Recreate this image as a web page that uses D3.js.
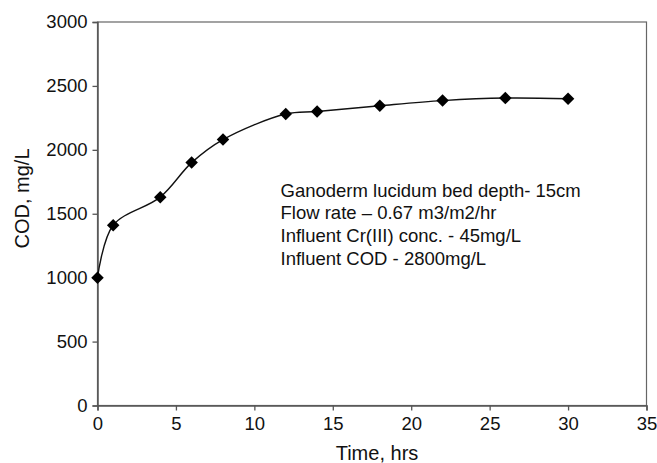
<!DOCTYPE html>
<html>
<head>
<meta charset="utf-8">
<script src="https://cdn.jsdelivr.net/npm/d3@7"></script>
<style>
  body { margin: 0; background: #fff; }
  text { font-family: "Liberation Sans", Arial, sans-serif; fill: #111; }
</style>
</head>
<body>
<script>
// time (hrs) and COD (mg/L)
let hours = [0, 1, 4, 6, 8, 12, 14, 18, 22, 26, 30];
let cod = [1000, 1410, 1630, 1900, 2080, 2280, 2300, 2345, 2385, 2405, 2400];
let xTicks = [0, 5, 10, 15, 20, 25, 30, 35];
let yTicks = [0, 500, 1000, 1500, 2000, 2500, 3000];
let notes = [
    "Ganoderm lucidum bed depth- 15cm",
    "Flow rate \u2013 0.67 m3/m2/hr",
    "Influent Cr(III) conc. - 45mg/L",
    "Influent COD - 2800mg/L"
];

let plotLeft = 97.5, plotTop = 22, plotRight = 646.5, plotBottom = 405.5;

let svg = d3.select("body")
    .append("svg")
    .attr("width", 657).attr("height", 463);

let xScale = d3.scaleLinear()
    .domain([0, 35])
    .range([plotLeft, plotRight]);

let yScale = d3.scaleLinear()
    .domain([0, 3000])
    .range([plotBottom, plotTop]);

// plot frame
svg.append("rect")
    .attr("x", plotLeft).attr("y", plotTop)
    .attr("width", plotRight - plotLeft).attr("height", plotBottom - plotTop)
    .attr("fill", "none")
    .attr("stroke", "#666")
    .attr("stroke-width", 1.2);

let xAxis = svg.append("g")
    .attr("transform", "translate(0," + plotBottom + ")")
    .call(d3.axisBottom(xScale).tickValues(xTicks).tickFormat(d3.format("d"))
        .tickSize(5).tickPadding(6.5));

let yAxis = svg.append("g")
    .attr("transform", "translate(" + plotLeft + ",0)")
    .call(d3.axisLeft(yScale).tickValues(yTicks).tickFormat(d3.format("d"))
        .tickSize(5).tickPadding(5));

[xAxis, yAxis].forEach(function (g) {
    g.select(".domain").attr("stroke", "#555").attr("stroke-width", 1.5);
    g.selectAll(".tick line").attr("stroke", "#555").attr("stroke-width", 1.3);
    g.selectAll(".tick text")
        .attr("font-size", 18.5)
        .attr("font-family", "Liberation Sans, Arial, sans-serif")
        .attr("fill", "#111");
});

let points = hours.map(function (h, i) { return [h, cod[i]]; });

let line = d3.line()
    .x(function (d) { return xScale(d[0]); })
    .y(function (d) { return yScale(d[1]); })
    .curve(d3.curveCatmullRom.alpha(0.5));

svg.append("path")
    .datum(points)
    .attr("d", line)
    .attr("fill", "none")
    .attr("stroke", "#111")
    .attr("stroke-width", 1.4);

svg.selectAll(".marker")
    .data(points).enter()
    .append("path")
    .attr("class", "marker")
    .attr("d", d3.symbol().type(d3.symbolSquare).size(78))
    .attr("transform", function (d) {
        return "translate(" + xScale(d[0]) + "," + yScale(d[1]) + ") rotate(45)";
    })
    .attr("fill", "#000");

svg.selectAll(".note")
    .data(notes).enter()
    .append("text")
    .attr("class", "note")
    .attr("x", 280.5)
    .attr("y", function (d, i) { return 196.5 + i * 22.8; })
    .attr("font-size", 18.5)
    .text(function (d) { return d; });

svg.append("text")
    .attr("x", 377)
    .attr("y", 460)
    .attr("text-anchor", "middle")
    .attr("font-size", 20)
    .text("Time, hrs");

svg.append("text")
    .attr("transform", "translate(28.5,198.5) rotate(-90)")
    .attr("text-anchor", "middle")
    .attr("font-size", 20)
    .text("COD, mg/L");
</script>
</body>
</html>
